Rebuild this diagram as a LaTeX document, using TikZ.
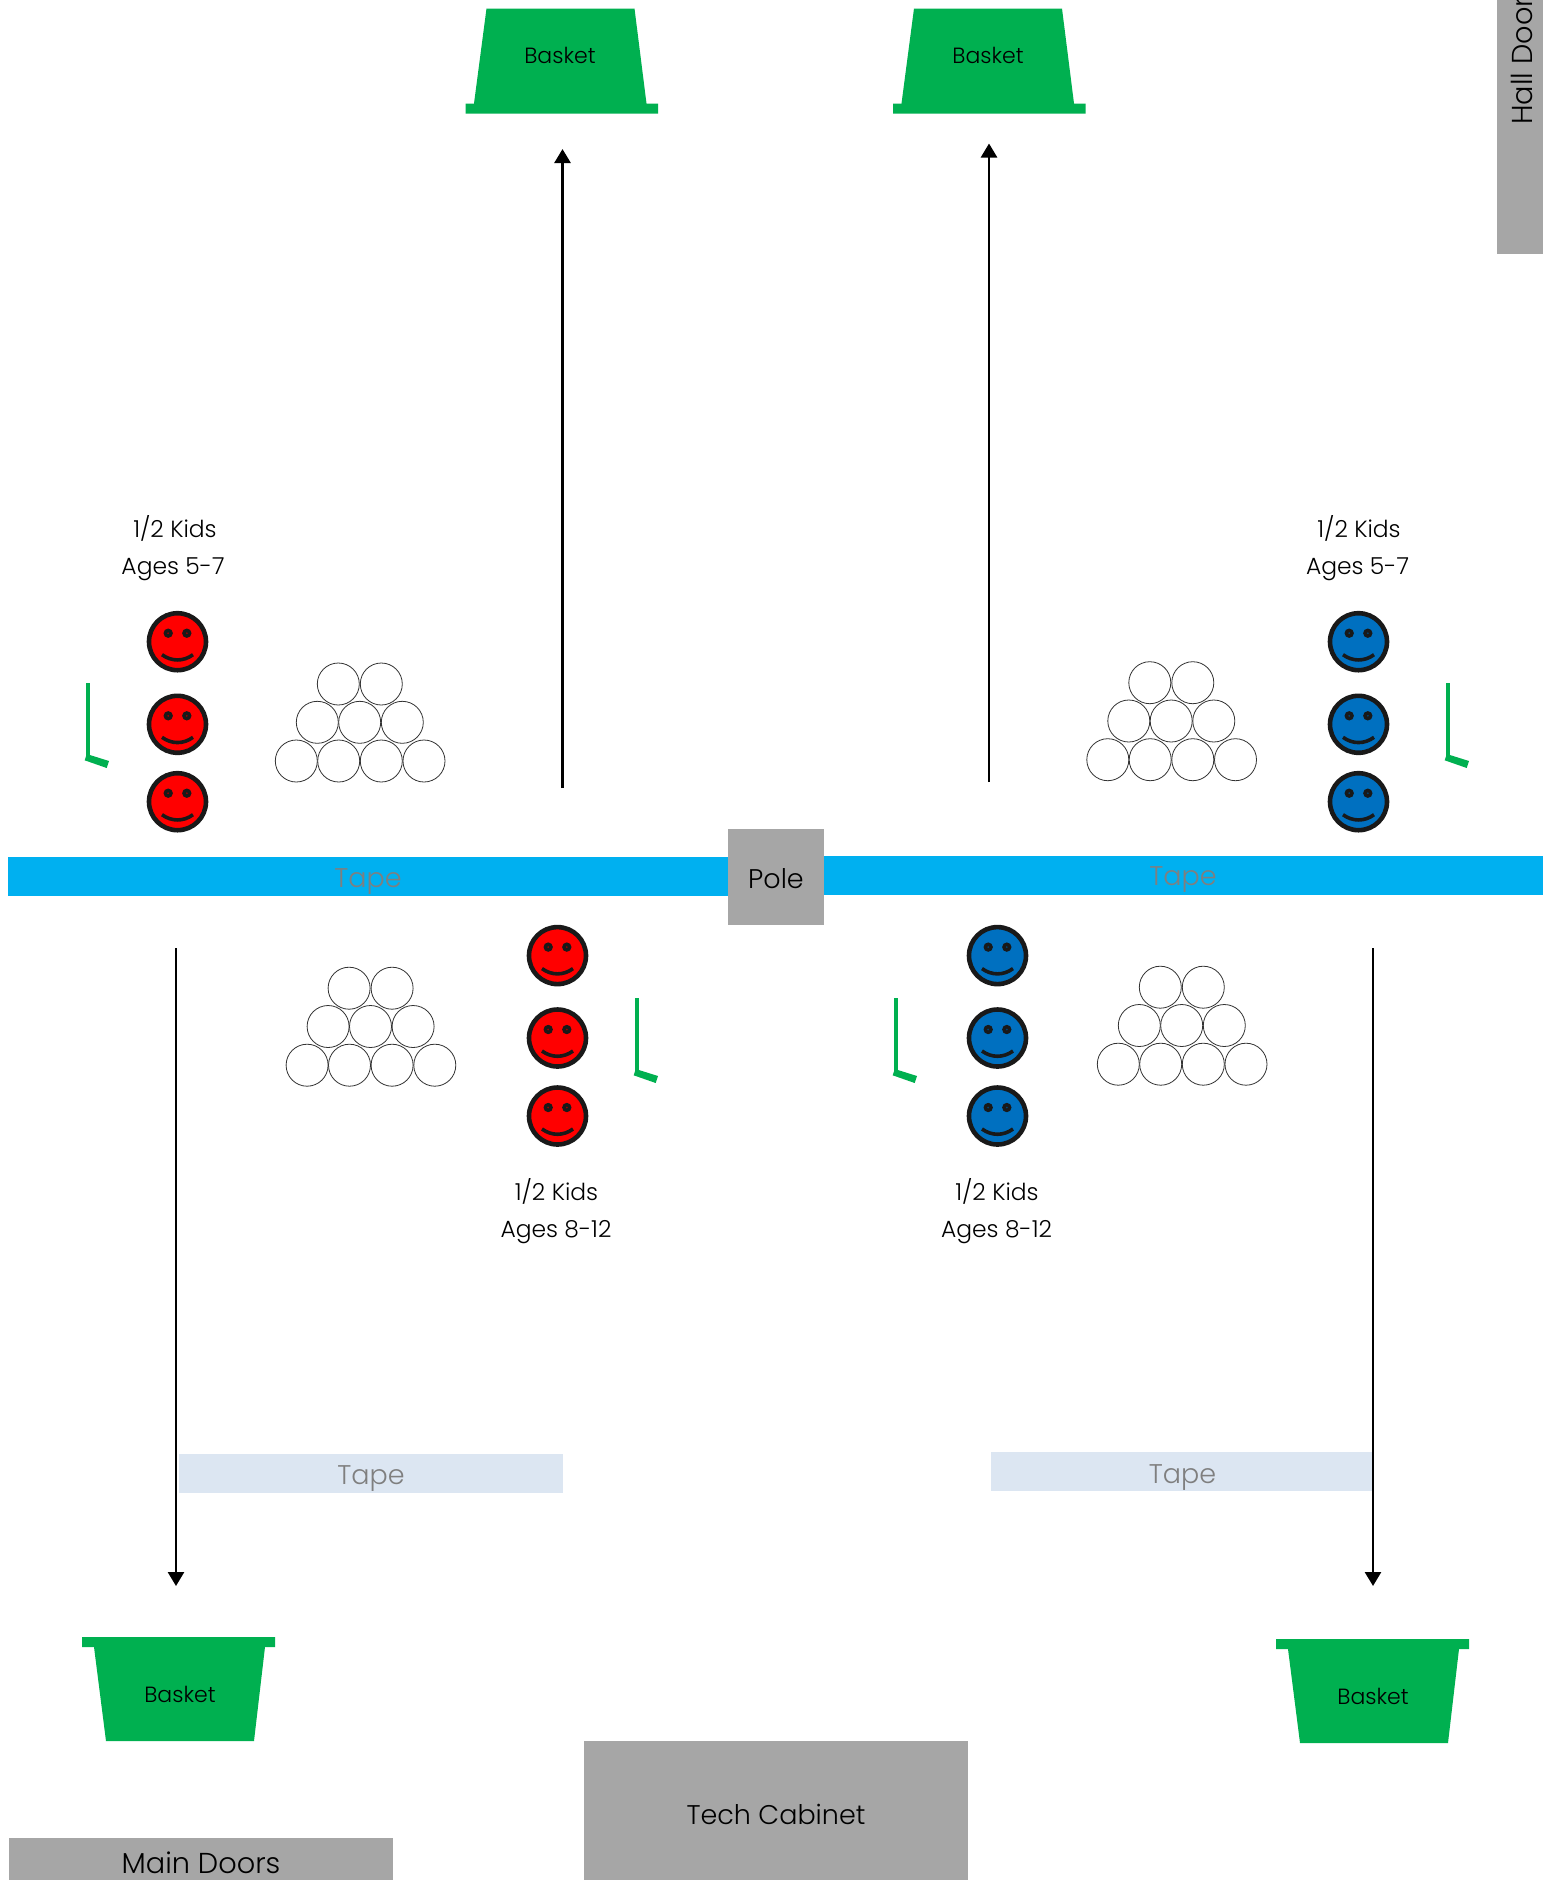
\documentclass[tikz,border=0pt]{standalone}
\usepackage{fontspec}
\setmainfont{Poppins}[UprightFont=* Light]
\usetikzlibrary{arrows.meta}
\definecolor{bgreen}{HTML}{00B050}
\definecolor{tapeblue}{HTML}{00B0F0}
\definecolor{lighttape}{HTML}{DCE6F2}
\definecolor{wallgray}{HTML}{A6A6A6}
\definecolor{tapetxt}{HTML}{7F7F7F}
\definecolor{kidblue}{HTML}{0070C0}
\tikzset{
  x=.5pt,y=-.5pt,
  block/.style={inner sep=0pt,outer sep=0pt,draw=none,fill=#1},
  lbl/.style={inner sep=0pt,font=\fontsize{11}{13}\selectfont,text=black},
  kidlbl/.style={inner sep=0pt,font=\fontsize{11.7}{14}\selectfont,text=black},
  biglbl/.style={inner sep=0pt,font=\fontsize{13.5}{16}\selectfont,text=#1},
  biglbl/.default=black,
  doorlbl/.style={inner sep=0pt,font=\fontsize{14.4}{17}\selectfont,text=black},
  flow/.style={draw=black,line width=1.3pt,-{Triangle[length=7pt,width=8pt]}},
  pics/smiley/.style={code={
    \draw[fill=#1,draw=black!90,line width=2.3pt] (0,0) circle (28.5);
    \fill[black!90] (-9.3,-8.5) circle (4.7) (9.3,-8.5) circle (4.7);
    \fill[#1!60!black] (-9.3,-8.5) circle (1) (9.3,-8.5) circle (1);
    \draw[black!90,line width=1.8pt] (-15.5,13) .. controls (-6,20) and (6,20) .. (15.5,13);
  }},
  pics/ballpile/.style={code={
    \foreach \bx/\by in {-21.4/-38.3,21.6/-38.3,-42.4/0,0/0,42.6/0,-63.4/38.7,-21/38.7,21.6/38.7,64.3/38.7}
      \draw[black!80,line width=.4pt,fill=white] (\bx,\by) circle (21);
  }},
  pics/stick/.style={code={
    \fill[bgreen] (-1.9,0) rectangle (1.9,75);
    \fill[bgreen] (-1.3,71) -- (21,78) -- (18.7,85) -- (-3.3,77.3) -- cycle;
  }},
  pics/basketdown/.style={code={
    \fill[bgreen] (-75,0) -- (73,0) -- (85,95) -- (96.5,95) -- (96.5,105) -- (-96,105) -- (-96,95) -- (-87.5,95) -- cycle;
  }},
  pics/basketup/.style={code={
    \fill[bgreen] (-96.5,0) -- (96.5,0) -- (96.5,10) -- (86.5,10) -- (75.5,104) -- (-72.5,104) -- (-84.5,10) -- (-96.5,10) -- cycle;
  }},
}
\begin{document}
\begin{tikzpicture}
\useasboundingbox (0,0) rectangle (1543,1880);
\fill[white] (0,0) rectangle (1543,1880);

% tape across the middle
\node[block=tapeblue,minimum width=360pt,minimum height=19.5pt] (tapeL) at (368,876.5) {};
\node[block=tapeblue,minimum width=359.5pt,minimum height=19.5pt] (tapeR) at (1183.5,875.5) {};
\node[block=wallgray,minimum width=48pt,minimum height=48pt] (pole) at (776,877) {};
\node[biglbl] (poleT) at (776,879) {Pole};
\node[biglbl=tapetxt] (tapeLT) at (368,882) {Tape};
\node[biglbl=tapetxt] (tapeRT) at (1183,880) {Tape};

% baskets
\pic at (561.5,8.5) {basketdown};
\pic at (989,8.5) {basketdown};
\pic at (178.5,1637) {basketup};
\pic at (1372.5,1639) {basketup};
\node[lbl] (b1) at (560,55) {Basket};
\node[lbl] (b2) at (988,55) {Basket};
\node[lbl] (b3) at (180,1694) {Basket};
\node[lbl] (b4) at (1373,1696) {Basket};

% arrows
\coordinate (a1s) at (562.5,788); \coordinate (a1e) at (562.5,149);
\coordinate (a2s) at (989,782);   \coordinate (a2e) at (989,143.5);
\coordinate (a3s) at (176,948);   \coordinate (a3e) at (176,1586);
\coordinate (a4s) at (1373,948);  \coordinate (a4e) at (1373,1586);
\draw[flow] (a1s) -- (a1e);
\draw[flow] (a2s) -- (a2e);
\draw[flow] (a3s) -- (a3e);
\draw[flow] (a4s) -- (a4e);

% light tape
\node[block=lighttape,minimum width=192pt,minimum height=19.5pt] (lt1) at (370.5,1473.5) {};
\node[block=lighttape,minimum width=190.5pt,minimum height=19.5pt] (lt2) at (1181.5,1471.5) {};
\node[biglbl=tapetxt] (lt1T) at (371,1479) {Tape};
\node[biglbl=tapetxt] (lt2T) at (1182.5,1477.5) {Tape};

% kids
\foreach \kx/\ky/\kc in {177.5/641.7/red,177.5/724.3/red,177.5/801.7/red,
  1358.5/641.7/kidblue,1358.5/724.3/kidblue,1358.5/801.7/kidblue,
  557.5/955.6/red,557.5/1038/red,557.5/1116/red,
  997.5/955.6/kidblue,997.5/1038/kidblue,997.5/1116/kidblue}
  \pic at (\kx,\ky) {smiley=\kc};

% balls
\pic at (359.7,722.3) {ballpile};
\pic at (1171.2,721) {ballpile};
\pic at (370.5,1026.5) {ballpile};
\pic at (1181.7,1025.5) {ballpile};

% sticks
\pic at (88,683) {stick};
\pic at (1448,683) {stick};
\pic at (637,998) {stick};
\pic at (896,998) {stick};

% kid labels
\node[kidlbl] (k1a) at (175,528) {1/2 Kids};
\node[kidlbl] (k1b) at (173,569) {Ages 5-7};
\node[kidlbl] (k2a) at (1359,528) {1/2 Kids};
\node[kidlbl] (k2b) at (1357.5,569) {Ages 5-7};
\node[kidlbl] (k3a) at (556.5,1191) {1/2 Kids};
\node[kidlbl] (k3b) at (556,1232) {Ages 8-12};
\node[kidlbl] (k4a) at (997,1191) {1/2 Kids};
\node[kidlbl] (k4b) at (996.5,1232) {Ages 8-12};

% walls
\node[block=wallgray,minimum width=192pt,minimum height=69.5pt] (tech) at (776,1810.5) {};
\node[biglbl] (techT) at (776,1814) {Tech Cabinet};
\node[block=wallgray,minimum width=192pt,minimum height=21pt] (main) at (201,1859) {};
\node[doorlbl] (mainT) at (201,1863) {Main Doors};
\node[block=wallgray,minimum width=23pt,minimum height=127pt] (hall) at (1520,127) {};
\node[doorlbl,rotate=90,anchor=base west] (hallT) at (1532,125) {Hall Door};
\end{tikzpicture}
\end{document}
